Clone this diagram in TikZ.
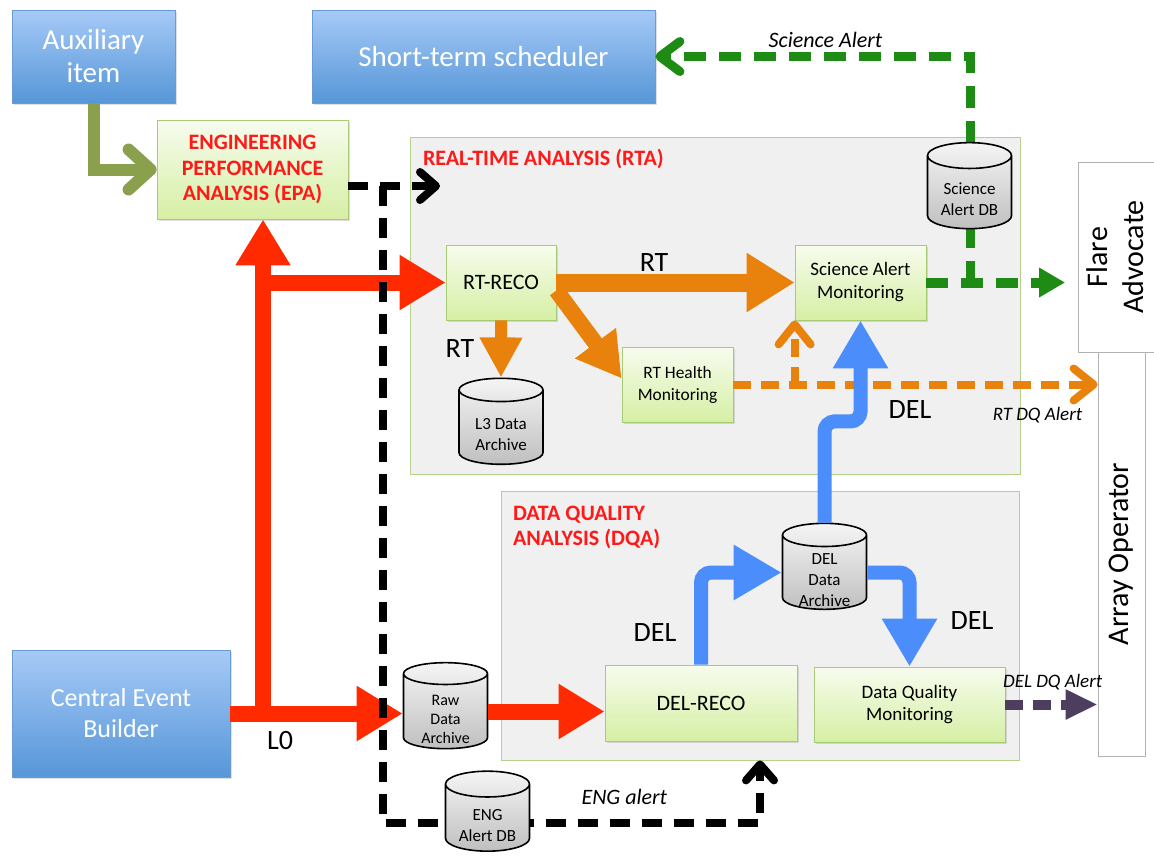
\documentclass[tikz,border=0pt]{standalone}
\usepackage{fontspec}
\setmainfont{Carlito}
\usepackage{xcolor}
\usepackage{tikz}
\usetikzlibrary{calc, arrows.meta, shapes, shadows, backgrounds, positioning}

\definecolor{exttop}{HTML}{A6CAF7}
\definecolor{extbottom}{HTML}{5696D8}
\definecolor{extedge}{HTML}{6C9BD2}
\definecolor{proctop}{HTML}{F7FCEE}
\definecolor{procbottom}{HTML}{D6EFA4}
\definecolor{procedge}{HTML}{A8CB76}
\definecolor{regionfill}{HTML}{F0F0F0}
\definecolor{regionedge}{HTML}{B6D18B}
\definecolor{alertred}{HTML}{FF1A1A}
\definecolor{flowred}{HTML}{FF2A00}
\definecolor{floworange}{HTML}{E8820C}
\definecolor{flowblue}{HTML}{4B8DFB}
\definecolor{flowgreen}{HTML}{1E8C14}
\definecolor{flowolive}{HTML}{8AA04C}
\definecolor{flowpurple}{HTML}{4D3D5F}

\newcommand{\dbstrut}{\rule{0pt}{13pt}}

\tikzset{
    extnode/.style = {draw=extedge, rectangle, top color=exttop, bottom color=extbottom, text=white,
      align=center, inner sep=0.2em, node distance=0em,
      drop shadow={shadow xshift=0.8pt, shadow yshift=-0.8pt, opacity=0.25}},
    procnode/.style = {draw=procedge, rectangle, top color=proctop, bottom color=procbottom,
      align=center, inner sep=0.2em, node distance=0em,
      drop shadow={shadow xshift=0.8pt, shadow yshift=-0.8pt, opacity=0.25}},
    regionnode/.style = {draw=regionedge, rectangle, fill=regionfill, node distance=0em},
    textnode/.style  = {draw=none, fill=none, rectangle, inner sep=0em, node distance=0em, align=center},
    titlenode/.style = {textnode, align=left, text=alertred, font=\fontsize{11}{12.5}\selectfont\bfseries},
    dbnode/.style = {cylinder, shape border rotate=90, aspect=0.45, draw=black, line width=0.8pt,
      top color=gray!8, bottom color=gray!50, minimum width=42pt, minimum height=43pt,
      inner xsep=0pt, inner ysep=-4.5pt, align=center, node distance=0em, font=\fontsize{8.5}{10.5}\selectfont},
    actornode/.style = {draw=gray!60, fill=white, rectangle, inner sep=0pt, node distance=0em,
      font=\fontsize{15}{18}\selectfont},
    flowlabel/.style = {textnode, font=\fontsize{14}{16}\selectfont},
    alertlabel/.style = {textnode, font=\fontsize{11}{13}\selectfont\itshape},
    smallalert/.style = {textnode, font=\fontsize{9.5}{11}\selectfont\itshape},
    redflow/.style = {draw=flowred, line width=8pt, -{Triangle[length=23pt, width=26pt]}},
    orangeflow/.style = {draw=floworange, line width=9pt, -{Triangle[length=24pt, width=28pt]}},
    blueflow/.style = {draw=flowblue, line width=7pt, rounded corners=5pt, -{Triangle[length=24pt, width=26pt]}},
    oliveflow/.style = {draw=flowolive, line width=6pt, -{Straight Barb[length=11pt, width=20pt, round]}},
    engflow/.style = {draw=black, line width=4pt, dash pattern=on 10pt off 6pt,
      -{Straight Barb[length=8pt, width=14pt, round]}},
    sciflow/.style = {draw=flowgreen, line width=5pt, dash pattern=on 11pt off 6.5pt},
    rtdqflow/.style = {draw=floworange, line width=4pt, dash pattern=on 9pt off 5pt,
      -{Straight Barb[length=10pt, width=16pt, round]}},
    deldqflow/.style = {draw=flowpurple, line width=5pt, dash pattern=on 9pt off 5pt,
      -{Triangle[length=16pt, width=14pt]}}
}

\begin{document}
\begin{tikzpicture}[node distance=0em]
    \useasboundingbox (0,0) rectangle (577pt,-429pt);

    % outside blocks
    \node [name=AUX, extnode, minimum width=81.5pt, minimum height=46.5pt,
      font=\fontsize{14.5}{16.5}\selectfont] at (46.75pt,-28.25pt) {Auxiliary\\item};
    \node [name=STS, extnode, right of = AUX, xshift=195pt, minimum width=171.5pt, minimum height=46.5pt,
      font=\fontsize{14.5}{16.5}\selectfont] {Short-term scheduler};
    \node [name=EPA, procnode, below of = AUX, xshift=79.5pt, yshift=-56.5pt, minimum width=95.5pt,
      minimum height=49.5pt, text=alertred, font=\fontsize{11}{12.75}\selectfont\bfseries]
      {ENGINEERING\\PERFORMANCE\\ANALYSIS (EPA)};
    \node [name=CEB, extnode, below of = AUX, xshift=13.75pt, yshift=-328.5pt, minimum width=109pt,
      minimum height=63.5pt, font=\fontsize{13}{15.5}\selectfont] {Central Event\\Builder};

    % analysis regions
    \node [name=RTA, regionnode, right of = EPA, xshift=231.25pt, yshift=-68pt, minimum width=305pt, minimum height=168.5pt] {};
    \node [name=DQA, regionnode, right of = CEB, xshift=319.5pt, yshift=44pt, minimum width=259pt, minimum height=134.5pt] {};
    \node [name=RTAtitle, titlenode, anchor=north west] at ([xshift=6.5pt, yshift=-6pt]RTA.north west) {REAL-TIME ANALYSIS (RTA)};
    \node [name=DQAtitle, titlenode, anchor=north west] at ([xshift=6pt, yshift=-7.5pt]DQA.north west) {DATA QUALITY\\ANALYSIS (DQA)};

    % real-time blocks
    \node [name=RTRECO, procnode, right of = EPA, xshift=124.25pt, yshift=-56.5pt, minimum width=55pt,
      minimum height=37.5pt, font=\fontsize{11}{13}\selectfont] {RT-RECO};
    \node [name=SAM, procnode, right of = RTRECO, xshift=179.75pt, minimum width=65.5pt,
      minimum height=37.5pt, font=\fontsize{9.5}{11.5}\selectfont] {Science Alert\\Monitoring};
    \node [name=RTH, procnode, right of = RTRECO, xshift=88.25pt, yshift=-51pt, minimum width=55.5pt,
      minimum height=37.5pt, font=\fontsize{8.7}{11}\selectfont] {RT Health\\Monitoring};
    \node [name=L3, dbnode, below of = RTRECO, yshift=-72.5pt] {\dbstrut L3 Data\\Archive};

    % data quality blocks
    \node [name=RAW, dbnode, right of = CEB, xshift=162.25pt, yshift=1pt, font=\fontsize{8}{9.5}\selectfont] {\dbstrut Raw\\Data\\Archive};
    \node [name=DELRECO, procnode, right of = RAW, xshift=127.75pt, yshift=4.25pt, minimum width=96pt,
      minimum height=38pt, font=\fontsize{11}{13}\selectfont] {DEL-RECO};
    \node [name=DQM, procnode, right of = DELRECO, xshift=104.25pt, yshift=-0.75pt, minimum width=95.5pt,
      minimum height=37.5pt, font=\fontsize{9.5}{11}\selectfont] {Data Quality\\Monitoring};
    \node [name=DELDA, dbnode, above of = DELRECO, xshift=61.75pt, yshift=65.25pt] {\dbstrut DEL\\Data\\Archive};

    % operators
    \node [name=FLARE, actornode, right of = SAM, xshift=129pt, yshift=12.75pt, minimum width=40pt, minimum height=95pt]
      {\rotatebox{90}{\begin{tabular}{@{}c@{}}Flare\\Advocate\end{tabular}}};
    \node [name=ARRAY, actornode, below of = FLARE, xshift=1.5pt, yshift=-148.5pt, minimum width=23.5pt, minimum height=202pt]
      {\rotatebox{90}{Array Operator}};

    % helper points
    \node [name=split, coordinate, right of = CEB, xshift=71pt, yshift=-1.75pt] {};
    \node [name=engtap, coordinate, right of = EPA, xshift=65.25pt, yshift=-8.25pt] {};
    \node [name=rtain, coordinate, right of = EPA, xshift=93.75pt, yshift=-8.25pt] {};
    \node [name=engturn, coordinate, below of = DQA, yshift=-98.75pt] {};

    % L0 stream
    \draw [redflow] (CEB.east) -- (CEB.east -| RAW.west);
    \draw [redflow] (split) -- (split |- EPA.south);
    \draw [redflow] (split |- RTRECO.west) -- (RTRECO.west);
    \draw [redflow] (RAW.east) -- (RAW.east -| DELRECO.west);
    \node [name=L0label, flowlabel, right of = split, xshift=8.5pt, yshift=-11.5pt] {L0};

    \draw [oliveflow] (AUX.south) |- (EPA.west);

    % RT stream
    \draw [orangeflow] (RTRECO.east) -- node[name=RTlabelA, flowlabel, pos=0.41, yshift=10pt] {RT} (SAM.west);
    \draw [orangeflow, line width=6pt, -{Triangle[length=20pt, width=20pt]}] (RTRECO.south) -- (L3.north);
    \node [name=RTlabelB, flowlabel, below of = RTRECO, xshift=-20.5pt, yshift=-33pt] {RT};
    \draw [orangeflow, line width=8pt, -{Triangle[length=22pt, width=24pt]}] ([yshift=-4pt]RTRECO.east) -- ([yshift=3pt]RTH.west);
    \draw [rtdqflow] (RTH.east) -- (RTH.east -| ARRAY.west);
    \node [name=RTDQlabel, smallalert, anchor=north east] at ([xshift=-7.5pt, yshift=-11pt]RTH.east -| ARRAY.west) {RT DQ Alert};
    \draw [rtdqflow] (RTH.east -| SAM.south west) -- (SAM.south west);

    % DEL stream
    \draw [blueflow] (DELRECO.north) |- (DELDA.west);
    \draw [blueflow] (DELDA.east) -| (DQM.north);
    \draw [blueflow] (DELDA.north) |- ($(DELDA.north)!0.5!(SAM.south)$) -| (SAM.south);
    \node [name=DELlabelA, flowlabel, below of = SAM, xshift=24.75pt, yshift=-63.75pt] {DEL};
    \node [name=DELlabelB, flowlabel, above of = DELRECO, xshift=-23pt, yshift=35.5pt] {DEL};
    \node [name=DELlabelC, flowlabel, above of = DQM, xshift=31.25pt, yshift=42.25pt] {DEL};
    \draw [deldqflow] (DQM.east) -- (DQM.east -| ARRAY.west);
    \node [name=DELDQlabel, smallalert, anchor=south east] at ([xshift=2.5pt, yshift=7pt]DQM.east -| ARRAY.west) {DEL DQ Alert};

    % science alerts
    \draw [sciflow, -{Triangle[length=13pt, width=14pt]}, shorten >=6.5pt] (SAM.east) -- (SAM.east -| FLARE.west);
    \draw [sciflow, -{Straight Barb[length=10pt, width=15pt, round]}, line width=4.5pt] (SAM.east) ++(22pt,0)
      |- node[name=SciLabel, alertlabel, pos=0.73, yshift=8.5pt] {Science Alert} (STS.east);
    \node [name=SADB, dbnode, above of = SAM, xshift=54.5pt, yshift=45pt] {\dbstrut Science\\Alert DB};

    % engineering alerts
    \draw [engflow] (EPA.east |- engtap) -- (rtain);
    \draw [engflow] (engtap) |- node[name=ENGlabel, alertlabel, pos=0.82, yshift=13pt] {ENG alert} (engturn) -- (engturn |- DQA.south);
    \node [name=ENGDB, dbnode, below of = RAW, xshift=21pt, yshift=-53.25pt, minimum height=40pt] {\dbstrut ENG\\Alert DB};
\end{tikzpicture}
\end{document}
